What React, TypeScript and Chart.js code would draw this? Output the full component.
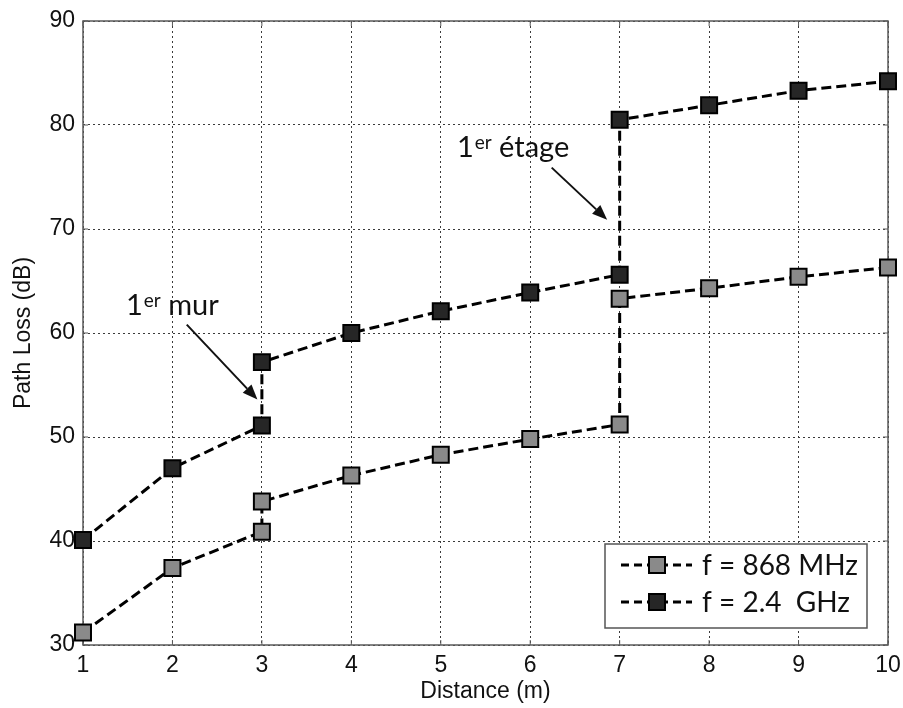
import React, { useEffect, useRef } from 'react';
import { Chart, registerables } from 'chart.js';

Chart.register(...registerables);

// ---- data ----
const distances868 = [1, 2, 3, 3, 4, 5, 6, 7, 7, 8, 9, 10];
const loss868 = [31.2, 37.4, 40.9, 43.8, 46.3, 48.3, 49.8, 51.2, 63.3, 64.3, 65.4, 66.3];
const distances24 = [1, 2, 3, 3, 4, 5, 6, 7, 7, 8, 9, 10];
const loss24 = [40.1, 47.0, 51.1, 57.2, 60.0, 62.1, 63.9, 65.6, 80.5, 81.9, 83.3, 84.2];
const seriesLabels = ['f = 868 MHz', 'f = 2.4  GHz'];
const seriesFill = ['#8a8a8a', '#262626'];
const xTitle = 'Distance (m)';
const yTitle = 'Path Loss (dB)';
const xRange = [1, 10];
const yRange = [30, 90];

// annotations in data units
const annotTexts = [
  { main: '1', sup: 'er', rest: ' mur', x: 1.48, y: 61.7, from: [2.16, 60.8], to: [2.95, 53.6] },
  { main: '1', sup: 'er', rest: ' étage', x: 5.18, y: 76.9, from: [6.24, 75.9], to: [6.86, 70.9] },
];

const TICK_FONT = '"Liberation Sans", Arial, sans-serif';
const NOTE_FONT = 'Lato, "Open Sans", sans-serif';

const framePlugin = {
  id: 'frame',
  beforeDatasetsDraw(chart: any) {
    const { ctx, chartArea: a, scales } = chart;
    ctx.save();
    ctx.strokeStyle = '#5a5a5a';
    ctx.lineWidth = 1.5;
    ctx.setLineDash([]);
    ctx.strokeRect(a.left, a.top, a.right - a.left, a.bottom - a.top);
    ctx.lineWidth = 1;
    const tl = 5;
    for (let v = xRange[0]; v <= xRange[1]; v++) {
      const px = scales.x.getPixelForValue(v);
      ctx.beginPath();
      ctx.moveTo(px, a.bottom); ctx.lineTo(px, a.bottom - tl);
      ctx.moveTo(px, a.top); ctx.lineTo(px, a.top + tl);
      ctx.stroke();
    }
    for (let v = yRange[0]; v <= yRange[1]; v += 10) {
      const py = scales.y.getPixelForValue(v);
      ctx.beginPath();
      ctx.moveTo(a.left, py); ctx.lineTo(a.left + tl, py);
      ctx.moveTo(a.right, py); ctx.lineTo(a.right - tl, py);
      ctx.stroke();
    }
    ctx.restore();
  },
};

function drawArrow(ctx: any, x1: number, y1: number, x2: number, y2: number) {
  const ang = Math.atan2(y2 - y1, x2 - x1);
  const hl = 15, hw = 6;
  const bx = x2 - hl * Math.cos(ang), by = y2 - hl * Math.sin(ang);
  ctx.beginPath();
  ctx.moveTo(x1, y1);
  ctx.lineTo(bx, by);
  ctx.stroke();
  ctx.beginPath();
  ctx.moveTo(x2, y2);
  ctx.lineTo(bx + hw * Math.sin(ang), by - hw * Math.cos(ang));
  ctx.lineTo(bx - hw * Math.sin(ang), by + hw * Math.cos(ang));
  ctx.closePath();
  ctx.fill();
}

const notesPlugin = {
  id: 'notes',
  afterDraw(chart: any) {
    const { ctx, scales } = chart;
    const sx = scales.x, sy = scales.y;
    ctx.save();
    ctx.fillStyle = '#111';
    ctx.strokeStyle = '#111';
    ctx.lineWidth = 2;
    ctx.setLineDash([]);
    annotTexts.forEach((n) => {
      let px = sx.getPixelForValue(n.x);
      const py = sy.getPixelForValue(n.y);
      ctx.textBaseline = 'alphabetic';
      ctx.textAlign = 'left';
      ctx.font = `29px ${NOTE_FONT}`;
      ctx.fillText(n.main, px, py);
      px += ctx.measureText(n.main).width + 1;
      ctx.font = `19px ${NOTE_FONT}`;
      ctx.fillText(n.sup, px, py - 8);
      px += ctx.measureText(n.sup).width;
      ctx.font = `29px ${NOTE_FONT}`;
      ctx.fillText(n.rest, px, py);
      drawArrow(
        ctx,
        sx.getPixelForValue(n.from[0]), sy.getPixelForValue(n.from[1]),
        sx.getPixelForValue(n.to[0]), sy.getPixelForValue(n.to[1])
      );
    });
    ctx.restore();
  },
};

const legendPlugin = {
  id: 'boxLegend',
  afterDraw(chart: any) {
    const { ctx, chartArea: a } = chart;
    const w = 262, h = 84;
    const right = a.right - 21, bottom = a.bottom - 17;
    const left = right - w, top = bottom - h;
    ctx.save();
    ctx.fillStyle = '#ffffff';
    ctx.fillRect(left, top, w, h);
    ctx.strokeStyle = '#555';
    ctx.lineWidth = 1.5;
    ctx.setLineDash([]);
    ctx.strokeRect(left, top, w, h);
    chart.data.datasets.forEach((ds: any, i: number) => {
      const cy = top + 21 + i * 37;
      ctx.strokeStyle = '#000';
      ctx.lineWidth = 3;
      ctx.setLineDash([8, 5]);
      ctx.beginPath();
      ctx.moveTo(left + 16, cy);
      ctx.lineTo(left + 87, cy);
      ctx.stroke();
      ctx.setLineDash([]);
      const s = 16;
      const mx = left + 52;
      ctx.fillStyle = ds.pointBackgroundColor;
      ctx.fillRect(mx - s / 2, cy - s / 2, s, s);
      ctx.lineWidth = 2;
      ctx.strokeRect(mx - s / 2, cy - s / 2, s, s);
      ctx.fillStyle = '#111';
      ctx.font = `28px ${NOTE_FONT}`;
      ctx.textBaseline = 'middle';
      ctx.textAlign = 'left';
      ctx.fillText(ds.label, left + 97, cy + 1);
    });
    ctx.restore();
  },
};

export default function App() {
  const ref = useRef<HTMLCanvasElement | null>(null);
  useEffect(() => {
    document.body.style.margin = '0';
    const canvas = ref.current!;
    const mk = (xs: number[], ys: number[]) => xs.map((x, i) => ({ x, y: ys[i] }));
    const dsStyle = (i: number) => ({
      borderColor: '#000',
      borderWidth: 3,
      borderDash: [10, 5],
      pointStyle: 'rect',
      pointRadius: 11.3,
      pointHoverRadius: 11.3,
      pointBorderWidth: 2,
      pointBorderColor: '#000',
      pointBackgroundColor: seriesFill[i],
      backgroundColor: seriesFill[i],
      fill: false,
      tension: 0,
      clip: false as any,
    });
    const chart = new Chart(canvas, {
      type: 'line',
      data: {
        datasets: [
          { label: seriesLabels[0], data: mk(distances868, loss868), ...dsStyle(0) },
          { label: seriesLabels[1], data: mk(distances24, loss24), ...dsStyle(1) },
        ] as any,
      },
      options: {
        responsive: false,
        animation: false,
        layout: { padding: { left: 0, right: 15, top: 21, bottom: 0 } },
        plugins: { legend: { display: false }, tooltip: { enabled: false }, title: { display: false } },
        scales: {
          x: {
            type: 'linear',
            min: xRange[0],
            max: xRange[1],
            ticks: { stepSize: 1, color: '#111', font: { family: TICK_FONT, size: 23 }, padding: 7 },
            grid: { color: '#3a3a3a', lineWidth: 1, drawTicks: false },
            border: { display: false, dash: [2, 3] },
            title: { display: true, text: xTitle, color: '#111', font: { family: TICK_FONT, size: 23 }, padding: { top: 0, bottom: 3 } },
            afterFit: (s: any) => { s.height = 63; s.paddingLeft = 0; s.paddingRight = 0; },
          },
          y: {
            type: 'linear',
            min: yRange[0],
            max: yRange[1],
            ticks: { stepSize: 10, color: '#111', font: { family: TICK_FONT, size: 23 }, padding: 8 },
            grid: { color: '#3a3a3a', lineWidth: 1, drawTicks: false },
            border: { display: false, dash: [2, 3] },
            title: { display: true, text: yTitle, color: '#111', font: { family: TICK_FONT, size: 23 }, padding: { top: 10, bottom: 0 } },
            afterFit: (s: any) => { s.width = 83; s.paddingTop = 0; s.paddingBottom = 0; },
          },
        },
      } as any,
      plugins: [framePlugin, notesPlugin, legendPlugin],
    });
    return () => chart.destroy();
  }, []);
  return (
    <div style={{ width: 903, height: 708, background: '#fff' }}>
      <canvas ref={ref} width={903} height={708} />
    </div>
  );
}
